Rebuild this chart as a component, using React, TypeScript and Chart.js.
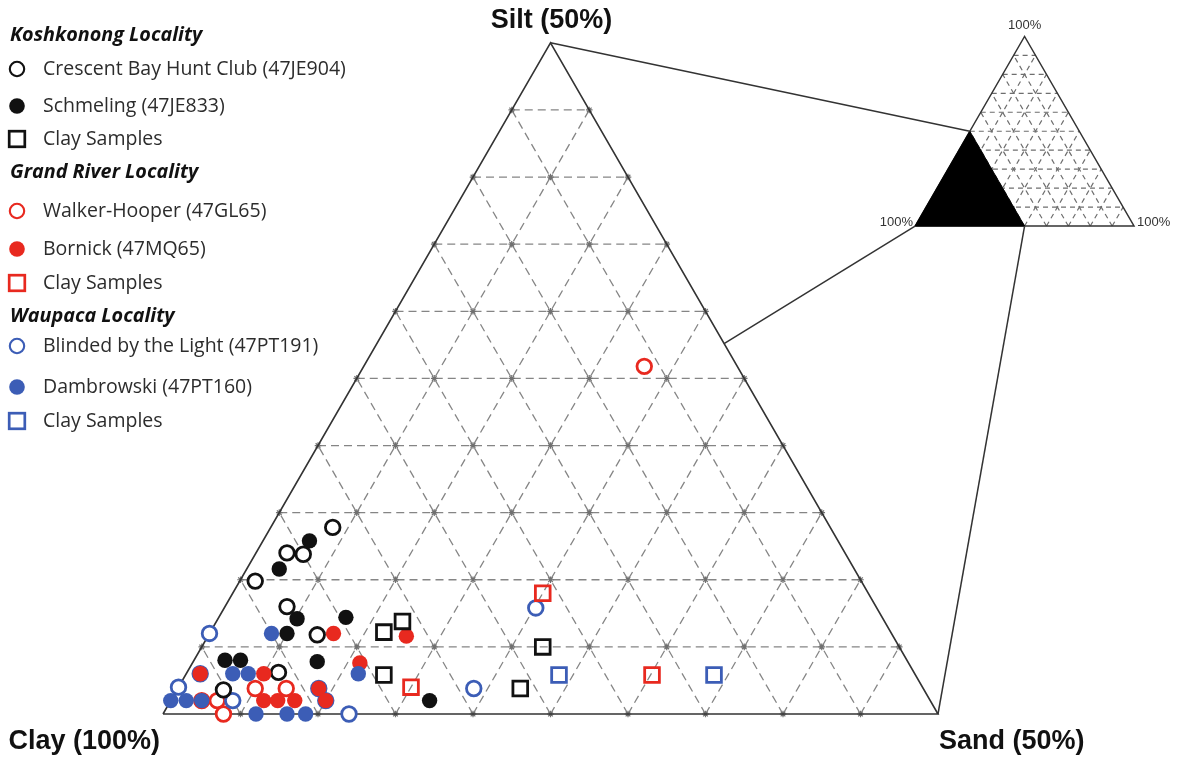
import { useEffect, useRef } from 'react';
import { Chart, registerables } from 'chart.js';

Chart.register(...registerables);

// ---- Data: ternary samples as [sand %, silt %]; clay = 100 - sand - silt ----
const crescentBay: number[][] = [[4.0, 13.9], [2.0, 12.0], [3.1, 11.9], [1.0, 9.9], [4.0, 8.0], [7.0, 5.9], [5.9, 3.1], [3.0, 1.8]];
const schmeling: number[][] = [[3.0, 12.9], [2.1, 10.8], [5.1, 7.1], [8.2, 7.2], [5.0, 6.0], [8.0, 3.9], [2.0, 4.0], [3.0, 4.0], [16.7, 1.0]];
const koshkonongClay: number[][] = [[11.2, 6.1], [12.0, 6.9], [12.8, 2.9], [22.0, 5.0], [22.1, 1.9]];
const walkerHooper: number[][] = [[2.0, 1.0], [3.0, 1.0], [3.9, 0.0], [5.0, 1.9], [7.0, 1.9], [18.1, 25.9]];
const bornick: number[][] = [[8.0, 6.0], [0.9, 3.0], [5.0, 3.0], [10.8, 3.8], [6.0, 1.0], [6.9, 1.0], [8.0, 1.0], [9.1, 1.9], [10.0, 1.0], [12.8, 5.8]];
const grandRiverClay: number[][] = [[20.0, 9.0], [15.0, 2.0], [30.1, 2.9]];
const blindedByLight: number[][] = [[0.0, 6.0], [0.0, 2.0], [4.0, 1.0], [12.0, 0.0], [0.9, 3.0], [9.1, 1.9], [10.0, 1.0], [20.1, 7.9], [19.1, 1.9]];
const dambrowski: number[][] = [[4.0, 6.0], [3.0, 3.0], [4.0, 3.0], [11.1, 3.0], [0.0, 1.0], [1.0, 1.0], [2.0, 1.0], [6.0, 0.0], [8.0, 0.0], [9.2, 0.0]];
const waupacaClay: number[][] = [[24.1, 2.9], [34.1, 2.9]];

// grid ticks (percent)
const mainTicks = [5, 10, 15, 20, 25, 30, 35, 40, 45];
const insetTicks = [10, 20, 30, 40, 50, 60, 70, 80, 90];
const mainMax = 50; // main triangle shows sand 0–50, silt 0–50, clay 50–100
const insetMax = 100;

// connectors between the zoomed triangle and the inset (main point, inset point)
const connectorsMain: number[][] = [[0, 50], [22.4, 27.6], [50, 0]];
const connectorsInset: number[][] = [[0, 50], [0, 0], [50, 0]];

// labels
const vertexLabels = ['Clay (100%)', 'Sand (50%)', 'Silt (50%)'];
const insetLabel = '100%';
const legendTitles = ['Koshkonong Locality', 'Grand River Locality', 'Waupaca Locality'];
const legendItems = [
  ['Crescent Bay Hunt Club (47JE904)', 'Schmeling (47JE833)', 'Clay Samples'],
  ['Walker-Hooper (47GL65)', 'Bornick (47MQ65)', 'Clay Samples'],
  ['Blinded by the Light (47PT191)', 'Dambrowski (47PT160)', 'Clay Samples'],
];

// ---- styles / layout ----
const BLACK = '#111111';
const RED = '#e8291f';
const BLUE = '#3c5db6';
const groupColors = [BLACK, RED, BLUE];
const markerKinds = ['open', 'filled', 'square'];
const GRID = '#858585';
const EDGE = '#333333';
const SQ3 = Math.sqrt(3) / 2;
const INSET = { x0: 48.52, y0: 31.48, s: 0.1413 };

const mainXY = (p: number[]) => ({ x: p[0] + p[1] / 2, y: p[1] * SQ3 });
const insetXY = (p: number[]) => ({ x: INSET.x0 + INSET.s * (p[0] + p[1] / 2), y: INSET.y0 + INSET.s * p[1] * SQ3 });

function gridSegments(ticks: number[], max: number): number[][][] {
  const segs: number[][][] = [];
  ticks.forEach((t) => {
    segs.push([[0, t], [max - t, t]]); // constant silt
    segs.push([[t, 0], [t, max - t]]); // constant sand
    segs.push([[t, 0], [0, t]]); // constant clay
  });
  return segs;
}

function lineDs(points: any[], color: string, width: number, dash: number[], order: number, extra: any = {}) {
  return {
    type: 'line',
    data: points,
    showLine: true,
    borderColor: color,
    borderWidth: width,
    borderDash: dash,
    pointRadius: 0,
    fill: false,
    tension: 0,
    order,
    clip: false,
    ...extra,
  };
}

function pointDs(points: number[][], kind: string, color: string, order: number) {
  const base: any = {
    type: 'scatter',
    data: points.map(mainXY),
    order,
    clip: false,
  };
  if (kind === 'open') {
    return { ...base, pointStyle: 'circle', pointRadius: 7.3, borderWidth: 2.8, borderColor: color, backgroundColor: '#ffffff' };
  }
  if (kind === 'filled') {
    return { ...base, pointStyle: 'circle', pointRadius: 7.7, borderWidth: 0, borderColor: color, backgroundColor: color };
  }
  return { ...base, pointStyle: 'rect', pointRadius: 10.4, borderWidth: 2.8, borderColor: color, backgroundColor: 'rgba(0,0,0,0)' };
}

const labelPlugin = {
  id: 'ternaryLabels',
  afterDraw(chart: any) {
    const ctx: CanvasRenderingContext2D = chart.ctx;
    const xs = chart.scales.x;
    const ys = chart.scales.y;
    const px = (p: { x: number; y: number }) => [xs.getPixelForValue(p.x), ys.getPixelForValue(p.y)];
    ctx.save();
    // vertex labels
    ctx.fillStyle = '#111';
    ctx.font = 'bold 27px "Liberation Sans", Arial, sans-serif';
    ctx.textBaseline = 'middle';
    const [cx, cy] = px(mainXY([0, 0]));
    const [sx, sy] = px(mainXY([mainMax, 0]));
    const [tx, ty] = px(mainXY([0, mainMax]));
    ctx.textAlign = 'right';
    ctx.fillText(vertexLabels[0], cx - 3, cy + 28);
    ctx.textAlign = 'left';
    ctx.fillText(vertexLabels[1], sx + 1, sy + 28);
    ctx.textAlign = 'center';
    ctx.font = 'bold 27px "Liberation Sans", Arial, sans-serif';
    ctx.fillText(vertexLabels[2], tx + 1, ty - 22);

    // inset labels
    ctx.font = '13px "Liberation Sans", Arial, sans-serif';
    ctx.fillStyle = '#333';
    const [ilx, ily] = px(insetXY([0, 0]));
    const [irx, iry] = px(insetXY([insetMax, 0]));
    const [itx, ity] = px(insetXY([0, insetMax]));
    ctx.textAlign = 'center';
    ctx.fillText(insetLabel, itx, ity - 11);
    ctx.textAlign = 'right';
    ctx.fillText(insetLabel, ilx - 2, ily - 4);
    ctx.textAlign = 'left';
    ctx.fillText(insetLabel, irx + 3, iry - 4);

    // legend
    const titleY = [35, 172, 316];
    const itemY = [[69, 106, 139], [211, 249, 283], [346, 387, 421]];
    legendTitles.forEach((title, g) => {
      ctx.font = 'italic bold 19.8px "Open Sans", sans-serif';
      ctx.fillStyle = '#111';
      ctx.textAlign = 'left';
      ctx.fillText(title, 10, titleY[g]);
      legendItems[g].forEach((label, i) => {
        const y = itemY[g][i];
        const color = groupColors[g];
        const kind = markerKinds[i];
        ctx.save();
        if (kind === 'open') {
          ctx.beginPath();
          ctx.arc(17, y, 7.2, 0, Math.PI * 2);
          ctx.fillStyle = '#fff';
          ctx.fill();
          ctx.lineWidth = 2.1;
          ctx.strokeStyle = color;
          ctx.stroke();
        } else if (kind === 'filled') {
          ctx.beginPath();
          ctx.arc(17, y, 7.8, 0, Math.PI * 2);
          ctx.fillStyle = color;
          ctx.fill();
        } else {
          ctx.lineWidth = 2.7;
          ctx.strokeStyle = color;
          ctx.strokeRect(17 - 7.8, y - 7.8, 15.6, 15.6);
        }
        ctx.restore();
        ctx.font = '19.5px "Open Sans", sans-serif';
        ctx.fillStyle = '#2c2c2c';
        ctx.fillText(label, 43, y);
      });
    });
    ctx.restore();
  },
};

export default function App() {
  const canvasRef = useRef<HTMLCanvasElement | null>(null);

  useEffect(() => {
    if (!canvasRef.current) return;
    const datasets: any[] = [];

    // main grid
    gridSegments(mainTicks, mainMax).forEach((seg) => {
      datasets.push(lineDs(seg.map(mainXY), GRID, 1.3, [8, 5], 100));
    });
    // grid node markers
    const nodes: any[] = [];
    for (let a = 0; a <= mainMax; a += 5) {
      for (let b = 0; a + b <= mainMax; b += 5) {
        const isVertex = (a === 0 && b === 0) || (a === mainMax && b === 0) || (a === 0 && b === mainMax);
        if (!isVertex) nodes.push(mainXY([a, b]));
      }
    }
    datasets.push({
      type: 'scatter',
      data: nodes,
      pointStyle: 'star',
      pointRadius: 3.3,
      borderWidth: 1.2,
      borderColor: '#707070',
      backgroundColor: '#707070',
      order: 98,
      clip: false,
    });
    // main outline
    datasets.push(lineDs([[0, 0], [mainMax, 0], [0, mainMax], [0, 0]].map(mainXY), EDGE, 1.6, [], 90));

    // inset grid + outline
    gridSegments(insetTicks, insetMax).forEach((seg) => {
      datasets.push(lineDs(seg.map(insetXY), '#6e6e6e', 1.2, [5, 4], 88));
    });
    datasets.push(lineDs([[0, 0], [insetMax, 0], [0, insetMax], [0, 0]].map(insetXY), EDGE, 1.4, [], 86));
    // shaded zoom region in inset
    datasets.push(lineDs([[0, 0], [mainMax, 0], [0, mainMax], [0, 0]].map(insetXY), '#000', 1, [], 84, {
      fill: 'shape',
      backgroundColor: '#000',
    }));
    // connectors
    connectorsMain.forEach((m, i) => {
      datasets.push(lineDs([mainXY(m), insetXY(connectorsInset[i])], EDGE, 1.5, [], 82));
    });

    // samples
    datasets.push(pointDs(koshkonongClay, 'square', BLACK, 1));
    datasets.push(pointDs(grandRiverClay, 'square', RED, 1));
    datasets.push(pointDs(waupacaClay, 'square', BLUE, 1));
    datasets.push(pointDs(dambrowski, 'filled', BLUE, 2));
    datasets.push(pointDs(bornick, 'filled', RED, 3));
    datasets.push(pointDs(schmeling, 'filled', BLACK, 4));
    datasets.push(pointDs(crescentBay, 'open', BLACK, 5));
    datasets.push(pointDs(blindedByLight, 'open', BLUE, 6));
    datasets.push(pointDs(walkerHooper, 'open', RED, 7));

    const chart = new Chart(canvasRef.current, {
      type: 'scatter',
      data: { datasets },
      options: {
        animation: false,
        responsive: false,
        maintainAspectRatio: false,
        events: [],
        layout: { padding: 0, autoPadding: false },
        plugins: { legend: { display: false }, tooltip: { enabled: false }, title: { display: false } },
        scales: {
          x: { type: 'linear', min: -10.516, max: 65.613, display: false },
          y: { type: 'linear', min: -3.032, max: 46.065, display: false },
        },
      } as any,
      plugins: [labelPlugin],
    } as any);
    return () => chart.destroy();
  }, []);

  return (
    <div style={{ position: 'fixed', left: 0, top: 0, width: 1180, height: 761, background: '#fff' }}>
      <canvas ref={canvasRef} width={1180} height={761} style={{ width: 1180, height: 761, display: 'block' }} />
    </div>
  );
}
